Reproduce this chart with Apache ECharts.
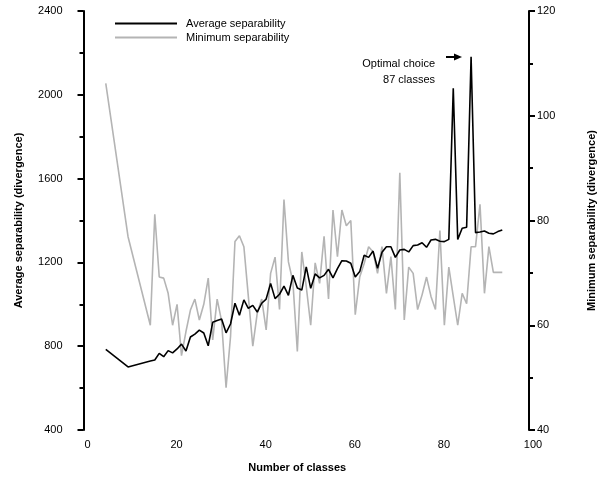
<!DOCTYPE html>
<html><head><meta charset="utf-8">
<script src="https://cdn.jsdelivr.net/npm/echarts@6/dist/echarts.min.js"></script>
<style>html,body{margin:0;padding:0;background:#fff}#c{width:597px;height:478px}</style>
</head><body><div id="c"></div>
<script>
const classes = [5,10,15,16,17,18,19,20,21,22,23,24,25,26,27,28,29,30,31,32,33,34,35,36,37,38,39,40,41,42,43,44,45,46,47,48,49,50,51,52,53,54,55,56,57,58,59,60,61,62,63,64,65,66,67,68,69,70,71,72,73,74,75,76,77,78,79,80,81,82,83,84,85,86,87,88,89,90,91,92,93,94];
const avgSep = [785,701,729,734,766,750,779,768,787,810,777,844,858,877,863,802,914,923,930,864,906,1005,948,1021,981,995,963,1005,1025,1100,1027,1048,1087,1043,1138,1078,1068,1179,1076,1145,1126,1138,1167,1126,1170,1208,1207,1196,1130,1156,1234,1224,1254,1172,1248,1275,1275,1224,1259,1262,1250,1280,1283,1294,1272,1307,1310,1301,1299,1310,2031,1310,1363,1368,2182,1342,1345,1350,1339,1336,1347,1355];
const minSep = [106.2,76.9,60.0,81.2,69.2,69.0,66.1,60.0,64.0,54.2,58.8,62.9,65.0,61.0,64.0,69.0,57.2,65.0,60.8,48.1,57.8,76.0,77.1,75.0,65.5,56.0,62.3,65.0,59.1,69.9,73.0,63.0,84.0,72.1,68.3,55.0,74.0,67.4,60.0,71.9,68.0,77.0,65.0,82.0,73.1,82.0,79.0,80.0,62.0,69.2,71.8,75.0,74.0,69.9,75.0,66.1,73.1,63.0,89.1,61.0,71.1,69.9,63.0,65.8,69.2,65.5,63.0,78.1,60.0,71.1,65.5,60.0,66.1,64.1,75.0,75.0,83.1,66.1,75.0,70.1,70.1,70.1];
const xTicks = [0,20,40,60,80,100];
const leftTicks = [400,800,1200,1600,2000,2400];
const rightTicks = [40,60,80,100,120];

const FONT = 'Liberation Sans, Arial, sans-serif';
const chart = echarts.init(document.getElementById('c'), null, {renderer:'canvas'});
const plain = v => String(v);
const axisCommon = {
  axisLine:{show:true, lineStyle:{color:'#000', width:2}},
  axisTick:{show:true, inside:false, length:6, lineStyle:{color:'#000', width:2}},
  minorTick:{show:true, splitNumber:2, length:4, lineStyle:{color:'#000', width:2}},
  splitLine:{show:false},
  nameTextStyle:{color:'#000', fontFamily:FONT, fontSize:11, fontWeight:'bold'}
};
chart.setOption({
  animation:false,
  backgroundColor:'#fff',
  grid:{left:83.5, right:68, top:11, bottom:48, containLabel:false, outerBoundsMode:'none'},
  legend:{
    orient:'vertical', left:110, top:13, itemWidth:62, itemHeight:2, itemGap:3, icon:'rect',
    textStyle:{color:'#000', fontFamily:FONT, fontSize:11, padding:[0,0,0,4]},
    data:['Average separability','Minimum separability']
  },
  xAxis:{
    type:'value', min:xTicks[0], max:xTicks[xTicks.length-1], interval:20,
    name:'Number of classes', nameLocation:'middle', nameGap:32,
    axisLine:{show:false}, axisTick:{show:false}, splitLine:{show:false},
    axisLabel:{color:'#000', fontFamily:FONT, fontSize:11, margin:9, formatter:plain, padding:[0,0,0,8]},
    nameTextStyle:{color:'#000', fontFamily:FONT, fontSize:11, fontWeight:'bold', padding:[0,18,0,0]}
  },
  yAxis:[
    Object.assign({}, axisCommon, {
      type:'value', position:'left', min:leftTicks[0], max:leftTicks[leftTicks.length-1], interval:400,
      name:'Average separability (divergence)', nameLocation:'middle', nameGap:59, nameRotate:90,
      axisLabel:{color:'#000', fontFamily:FONT, fontSize:11, margin:21, formatter:plain}
    }),
    Object.assign({}, axisCommon, {
      type:'value', position:'right', min:rightTicks[0], max:rightTicks[rightTicks.length-1], interval:20,
      name:'Minimum separability (divergence)', nameLocation:'middle', nameGap:57, nameRotate:90,
      axisLabel:{color:'#000', fontFamily:FONT, fontSize:11, margin:8, formatter:plain}
    })
  ],
  series:[
    {name:'Average separability', type:'line', yAxisIndex:0, symbol:'none', showSymbol:false,
     data:classes.map((c,i)=>[c,avgSep[i]]), lineStyle:{color:'#000', width:1.6}, itemStyle:{color:'#000'}, z:3},
    {name:'Minimum separability', type:'line', yAxisIndex:1, symbol:'none', showSymbol:false,
     data:classes.map((c,i)=>[c,minSep[i]]), lineStyle:{color:'#b4b4b4', width:1.6}, itemStyle:{color:'#b4b4b4'}, z:2}
  ],
  graphic:[
    {type:'text', x:435, y:56, style:{text:'Optimal choice\n87 classes', fill:'#000', font:'11px '+FONT, align:'right', verticalAlign:'top', lineHeight:16}},
    {type:'line', shape:{x1:446, y1:57, x2:456, y2:57}, style:{stroke:'#000', lineWidth:2}},
    {type:'polygon', shape:{points:[[454,53.5],[462,57],[454,60.5]]}, style:{fill:'#000'}}
  ]
});
</script></body></html>
